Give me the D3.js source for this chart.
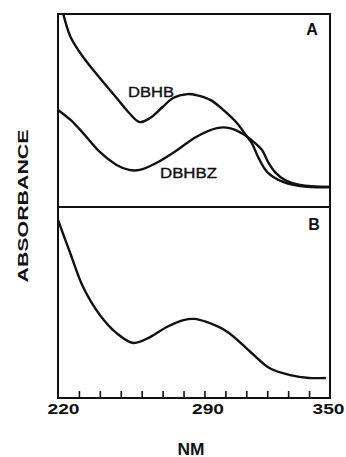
<!DOCTYPE html>
<html>
<head>
<meta charset="utf-8">
<script src="https://cdn.jsdelivr.net/npm/d3@7"></script>
<style>
  body { margin: 0; background: #fff; }
  text { font-family: "Liberation Sans", Arial, sans-serif; fill: #111; }
</style>
</head>
<body>
<script>
// absorbance spectra, arbitrary units
var width = 346, height = 457;

var dbhbNm  = [220, 222.5, 226, 232, 240, 248, 254, 259, 264, 270, 275, 282, 286, 293, 299, 305.5, 310, 312.7, 315.6, 320, 327.6, 339, 350];
var dbhbAbs = [1.10, 1.0, 0.881, 0.777, 0.668, 0.565, 0.487, 0.440, 0.461, 0.518, 0.565, 0.585, 0.580, 0.554, 0.503, 0.435, 0.370, 0.330, 0.260, 0.181, 0.130, 0.104, 0.104];

var dbhbzNm  = [220, 226, 232, 240, 248, 254, 259, 267, 277, 286, 296, 302, 308.5, 313.2, 317.5, 320.4, 323.7, 328.5, 335.7, 350];
var dbhbzAbs = [0.503, 0.451, 0.383, 0.285, 0.218, 0.192, 0.192, 0.228, 0.295, 0.363, 0.409, 0.409, 0.378, 0.340, 0.295, 0.233, 0.181, 0.140, 0.114, 0.104];

var bNm  = [220, 226, 232, 240, 248, 256, 264, 272, 280, 285, 291, 301, 312, 321, 331, 340, 348];
var bAbs = [0.932, 0.754, 0.581, 0.435, 0.340, 0.288, 0.319, 0.372, 0.408, 0.414, 0.398, 0.346, 0.241, 0.157, 0.120, 0.105, 0.105];

var minorTicks = [230, 240, 250, 260, 270, 280, 290, 300, 310, 320, 330, 340];
var tickLabels = [220, 290, 350];

// frame edges (not "top": that name is taken by window.top)
var x0 = 58, x1 = 330, yTop = 14, yMid = 207, yBot = 398;

var svg = d3.select('body').append('svg').attr('width', width).attr('height', height);

var x = d3.scaleLinear().domain([220, 350]).range([x0, x1]);
var yA = d3.scaleLinear().domain([0, 1]).range([yMid, yTop]);
var yB = d3.scaleLinear().domain([0, 1]).range([yBot, yMid]);

svg.append('clipPath').attr('id', 'clipA')
  .append('rect').attr('x', x0).attr('y', yTop).attr('width', x1 - x0).attr('height', yMid - yTop);

var zip = function(xs, ys){
  return xs.map(function(d, i){ return {nm: d, a: ys[i]}; });
};

var lineA = d3.line().x(function(d){ return x(d.nm); }).y(function(d){ return yA(d.a); })
  .curve(d3.curveCatmullRom.alpha(0.5));
var lineB = d3.line().x(function(d){ return x(d.nm); }).y(function(d){ return yB(d.a); })
  .curve(d3.curveCatmullRom.alpha(0.5));

var gA = svg.append('g').attr('clip-path', 'url(#clipA)');
[zip(dbhbNm, dbhbAbs), zip(dbhbzNm, dbhbzAbs)].forEach(function(s){
  gA.append('path').datum(s).attr('d', lineA)
    .attr('fill', 'none').attr('stroke', '#111').attr('stroke-width', 2.4);
});

svg.append('path').datum(zip(bNm, bAbs)).attr('d', lineB)
  .attr('fill', 'none').attr('stroke', '#111').attr('stroke-width', 2.4);

// frame
svg.append('rect').attr('x', x0).attr('y', yTop).attr('width', x1 - x0).attr('height', yBot - yTop)
  .attr('fill', 'none').attr('stroke', '#111').attr('stroke-width', 2);
svg.append('line').attr('x1', x0).attr('x2', x1).attr('y1', yMid).attr('y2', yMid)
  .attr('stroke', '#111').attr('stroke-width', 2);

// inside ticks
var ticks = svg.append('g').attr('transform', 'translate(0,' + yBot + ')')
  .call(d3.axisBottom(x).tickValues(minorTicks).tickSize(-7).tickFormat(''));
ticks.select('.domain').remove();
ticks.selectAll('line').attr('stroke', '#111').attr('stroke-width', 1.6);

var labels = svg.append('g').attr('transform', 'translate(0,' + yBot + ')')
  .call(d3.axisBottom(x).tickValues(tickLabels).tickSize(0).tickPadding(6));
labels.select('.domain').remove();
labels.selectAll('text')
  .attr('font-size', 14).attr('font-weight', 'bold').attr('fill', '#111')
  .attr('font-family', '"Liberation Sans", Arial, sans-serif')
  .attr('dx', function(d){ return d === 220 ? 5 : d === 290 ? 3 : -2; })
  .attr('textLength', 32).attr('lengthAdjust', 'spacingAndGlyphs');

svg.append('text').attr('x', 191).attr('y', 455).attr('text-anchor', 'middle')
  .attr('font-size', 16).attr('font-weight', 'bold')
  .attr('textLength', 27).attr('lengthAdjust', 'spacingAndGlyphs').text('NM');

svg.append('text').attr('transform', 'translate(28,206) rotate(-90)').attr('text-anchor', 'middle')
  .attr('font-size', 15).attr('font-weight', 'bold')
  .attr('textLength', 153).attr('lengthAdjust', 'spacingAndGlyphs').text('ABSORBANCE');

svg.append('text').attr('x', 312).attr('y', 35).attr('text-anchor', 'middle')
  .attr('font-size', 16).attr('font-weight', 'bold').text('A');
svg.append('text').attr('x', 314).attr('y', 230).attr('text-anchor', 'middle')
  .attr('font-size', 16).attr('font-weight', 'bold').text('B');

svg.append('text').attr('x', 128).attr('y', 97)
  .attr('font-size', 15).attr('stroke', '#111').attr('stroke-width', 0.4)
  .attr('textLength', 46).attr('lengthAdjust', 'spacingAndGlyphs').text('DBHB');
svg.append('text').attr('x', 160).attr('y', 178)
  .attr('font-size', 15).attr('stroke', '#111').attr('stroke-width', 0.4)
  .attr('textLength', 57).attr('lengthAdjust', 'spacingAndGlyphs').text('DBHBZ');
</script>
</body>
</html>
